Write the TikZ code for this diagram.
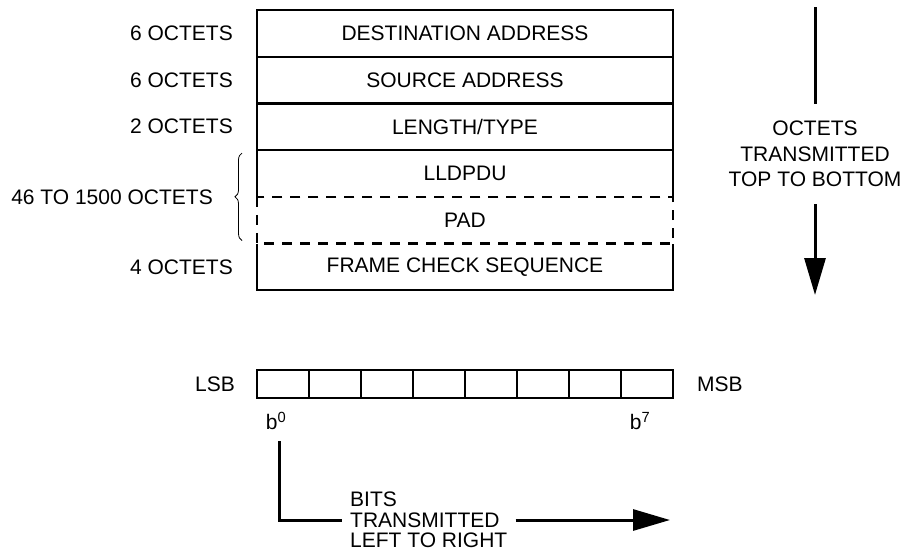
\documentclass[tikz,border=0pt]{standalone}
\usepackage{fontspec}
\setmainfont{Liberation Sans}
\usetikzlibrary{positioning,arrows.meta,decorations.pathreplacing}

\begin{document}
\begin{tikzpicture}[x=1pt,y=-1pt,font=\fontsize{21}{25.5}\selectfont,
  field/.style={minimum width=416pt,minimum height=46.7pt,inner sep=0pt,outer sep=0pt},
  bitcell/.style={draw,line width=2.2pt,minimum width=52pt,minimum height=28pt,inner sep=0pt,outer sep=0pt,anchor=north west},
  lbl/.style={inner sep=0pt},
  wall/.style={line width=2.2pt},
  gap/.style={line width=2.2pt,dash pattern=on 10pt off 8pt},
  tip/.style={line width=3pt,-{Triangle[length=37pt,width=21pt]}}]
 \useasboundingbox (0,0) rectangle (902,552);
 % frame
 \node[field,draw,wall,anchor=north west] (dst) at (257,10) {DESTINATION ADDRESS};
 \node[field,draw,wall,below=0pt of dst] (src) {SOURCE ADDRESS};
 \node[field,draw,wall,below=0pt of src] (len) {LENGTH/TYPE};
 \node[field,below=0pt of len] (pdu) {LLDPDU};
 \node[field,below=0pt of pdu] (pad) {PAD};
 \node[field,below=0pt of pad] (fcs) {FRAME CHECK SEQUENCE};
 \draw[wall] (pdu.south west) -- (pdu.north west) (pdu.north east) -- (pdu.south east);
 \draw[gap] (pad.north west) rectangle (pad.south east);
 \draw[wall] (fcs.north west) -- (fcs.south west) -- (fcs.south east) -- (fcs.north east);
 % sizes
 \node[lbl,left=24pt of dst] (dstsize) {6 OCTETS};
 \node[lbl,left=24pt of src] (srcsize) {6 OCTETS};
 \node[lbl,left=24pt of len] (lensize) {2 OCTETS};
 \node[lbl,left=24pt of fcs] (fcssize) {4 OCTETS};
 \draw[line width=0.8pt,decorate,decoration={brace,amplitude=7pt}]
   ([xshift=-15pt,yshift=3pt]pad.south west) -- ([xshift=-15pt,yshift=-3pt]pdu.north west);
 \node[lbl,left=44pt of pdu.south west] (pdusize) {46 TO 1500 OCTETS};
 % octet order
 \node[lbl,align=center,inner ysep=17pt] (order) at (815,154) {OCTETS\\TRANSMITTED\\TOP TO BOTTOM};
 \coordinate (ordertop) at (815,7);
 \coordinate (orderend) at (815,295);
 \draw[line width=3pt] (ordertop) -- (order);
 \draw[tip] (order) -- (orderend);
 % bits
 \foreach \i in {0,...,7}
   \node[bitcell] (bit\i) at (257+52*\i,370) {};
 \node[lbl,left=22pt of bit0] (lsb) {LSB};
 \node[lbl,right=24pt of bit7] (msb) {MSB};
 \node[lbl,below=14pt of bit0,xshift=-7pt] (blo) {b\textsuperscript{0}};
 \node[lbl,below=14pt of bit7,xshift=-7pt] (bhi) {b\textsuperscript{7}};
 \node[lbl,align=left,inner xsep=8pt,font=\fontsize{21}{20.5}\selectfont,anchor=west] (bits) at (342,520)
   {BITS\\TRANSMITTED\\LEFT TO RIGHT};
 \coordinate (bitsend) at (670,520);
 \draw[line width=3pt] ([xshift=3pt,yshift=-11pt]blo.south) |- (bits.west);
 \draw[tip] (bits.east) -- (bitsend);
\end{tikzpicture}
\end{document}
